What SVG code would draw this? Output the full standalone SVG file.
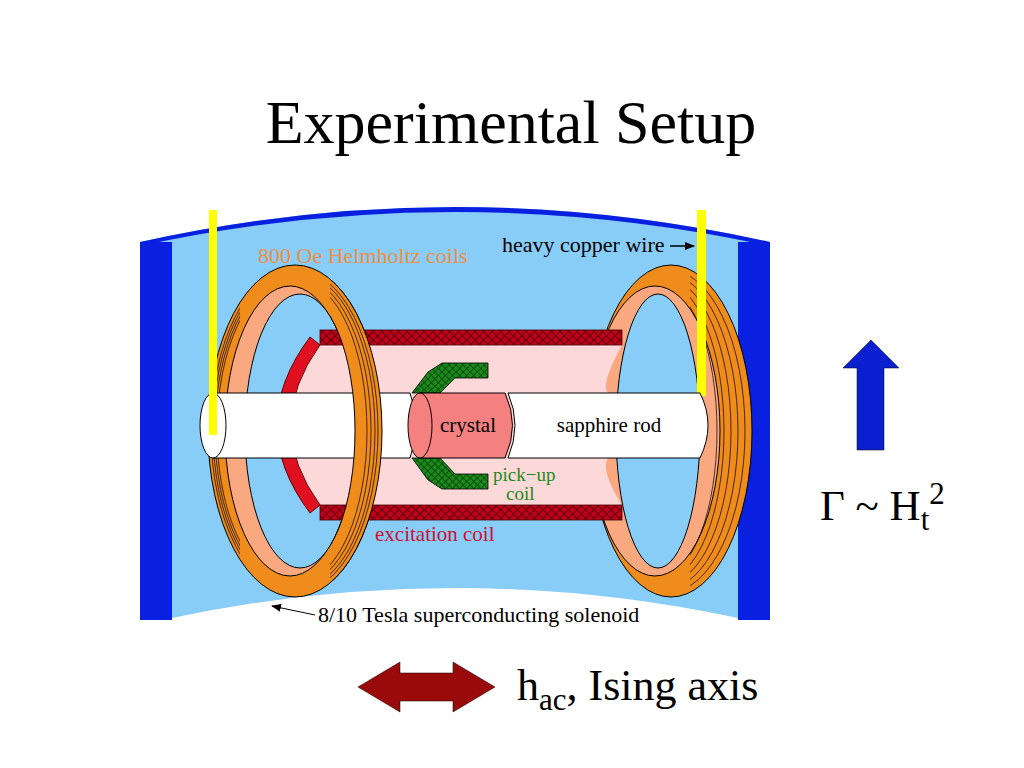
<svg xmlns="http://www.w3.org/2000/svg" width="1024" height="768" viewBox="0 0 1024 768">
<defs>
<pattern id="hatch" width="6" height="6" patternUnits="userSpaceOnUse" patternTransform="rotate(45)">
<rect width="6" height="6" fill="#c00018"/><path d="M0 0V6M0 0H6" stroke="#600010" stroke-width="2"/>
</pattern>
<pattern id="ghatch" width="5" height="5" patternUnits="userSpaceOnUse" patternTransform="rotate(45)">
<rect width="5" height="5" fill="#1a8a1a"/><path d="M0 0V5M0 0H5" stroke="#0a400a" stroke-width="1.5"/>
</pattern>
<marker id="ah" markerWidth="10" markerHeight="8" refX="9" refY="4" orient="auto" markerUnits="userSpaceOnUse"><path d="M0 0L10 4L0 8Z" fill="#000"/></marker>
<clipPath id="frontL"><rect x="330" y="250" width="60" height="360"/></clipPath>
<clipPath id="rightHalfR"><rect x="690" y="250" width="70" height="360"/></clipPath>
<clipPath id="leftHalfL"><rect x="200" y="250" width="40" height="360"/></clipPath>
</defs>
<style>
.t{font-family:"Liberation Serif",serif}
.ring{stroke:#000;stroke-width:1}
.wl{fill:none;stroke:#000;stroke-width:0.7}
</style>
<rect width="1024" height="768" fill="#fff"/>
<text class="t" x="511" y="143" font-size="62" text-anchor="middle">Experimental Setup</text>
<g id="solenoid">
<path d="M140 242Q455 172 770 242V620H738V618Q455 558 172 618V620H140Z" fill="#88ccf8"/>
<path d="M140 242Q455 172 770 242L770 246Q455 178 140 246Z" fill="#0a20e0"/>
<rect x="140" y="242" width="32" height="378" fill="#0a20e0"/>
<rect x="738" y="242" width="32" height="378" fill="#0a20e0"/>
</g>
<g id="ring-left">
<path fill="#f08c1c" class="ring" d="M208 431a87 166 0 1 0 174 0a87 166 0 1 0 -174 0Z"/>
<ellipse cx="290" cy="431" rx="65" ry="145" fill="#f9a880" class="ring"/>
<ellipse cx="300" cy="431" rx="55" ry="137" fill="#88ccf8" class="ring"/>
<g clip-path="url(#leftHalfL)">
<ellipse cx="293" cy="431" rx="82" ry="161" class="wl"/>
<ellipse cx="291" cy="431" rx="78" ry="157" class="wl"/>
<ellipse cx="289" cy="431" rx="74" ry="153" class="wl"/>
<ellipse cx="287" cy="431" rx="70" ry="149" class="wl"/>
</g>
</g>
<g id="ring-right">
<path fill="#f08c1c" class="ring" d="M590 431a81 166 0 1 0 162 0a81 166 0 1 0 -162 0Z"/>
<ellipse cx="655" cy="431" rx="65" ry="145" fill="#f9a880" class="ring"/>
<ellipse cx="658" cy="431" rx="42" ry="137" fill="#88ccf8" class="ring"/>
<g clip-path="url(#rightHalfR)">
<ellipse cx="669" cy="431" rx="76" ry="161" class="wl"/>
<ellipse cx="667" cy="431" rx="71" ry="157" class="wl"/>
<ellipse cx="665" cy="431" rx="66" ry="153" class="wl"/>
<ellipse cx="663" cy="431" rx="61" ry="149" class="wl"/>
<ellipse cx="661" cy="431" rx="56" ry="145" class="wl"/>
</g>
</g>
<rect x="697" y="210" width="9" height="186" fill="#ffff00"/>
<g id="excitation-coil">
<path d="M320 345H622Q600 385 608 393V458Q600 470 622 505H320Q260 425 320 345Z" fill="#fdd8d8"/>
<path d="M320 345Q262 425 320 505L310 513Q244 425 310 337Z" fill="#e01020" stroke="#600" stroke-width="1"/>
<rect x="320" y="330" width="302" height="15" fill="url(#hatch)" stroke="#400" stroke-width="0.8"/>
<rect x="320" y="505" width="302" height="15" fill="url(#hatch)" stroke="#400" stroke-width="0.8"/>
</g>
<g id="pickup-coil">
<path d="M442 363H488V378H455L440 393H412L428 372Z" fill="url(#ghatch)" stroke="#000" stroke-width="0.8"/>
<path d="M442 489H488V474H455L440 458H412L428 480Z" fill="url(#ghatch)" stroke="#000" stroke-width="0.8"/>
</g>
<g id="rod">
<path d="M213 393H410Q422 425 410 458H213Z" fill="#fff" stroke="#000" stroke-width="1"/>
<ellipse cx="213" cy="425.5" rx="13" ry="32.5" fill="#fff" stroke="#000" stroke-width="1"/>
<path d="M508 393H700Q716 425 700 458H508Q522 425 508 393Z" fill="#fff" stroke="#000" stroke-width="1"/>
<text class="t" x="609" y="432" font-size="21" text-anchor="middle">sapphire rod</text>
</g>
<g id="crystal">
<path d="M420 393H505Q520 425 505 458H420Z" fill="#f48080" stroke="#000" stroke-width="1"/>
<ellipse cx="420" cy="425.5" rx="12" ry="32.5" fill="#f48080" stroke="#000" stroke-width="1"/>
<text class="t" x="468" y="432" font-size="21" text-anchor="middle">crystal</text>
</g>
<g clip-path="url(#frontL)">
<path fill="#f08c1c" fill-rule="evenodd" class="ring" d="M208 431a87 166 0 1 0 174 0a87 166 0 1 0 -174 0ZM245 431a55 137 0 1 0 110 0a55 137 0 1 0 -110 0Z"/>
<ellipse cx="297" cy="431" rx="81" ry="161" class="wl"/>
<ellipse cx="299" cy="431" rx="76" ry="157" class="wl"/>
<ellipse cx="300" cy="431" rx="71" ry="153" class="wl"/>
<ellipse cx="301" cy="431" rx="66" ry="149" class="wl"/>
</g>
<rect x="209" y="210" width="8" height="225" fill="#ffff00"/>
<text class="t" x="258" y="263" font-size="22" fill="#f09040">800 Oe Helmholtz coils</text>
<text class="t" x="502" y="252" font-size="22">heavy copper wire</text>
<line x1="670" y1="246" x2="694" y2="246" stroke="#000" stroke-width="1.5" marker-end="url(#ah)"/>
<text class="t" x="375" y="541" font-size="21" fill="#d01030">excitation coil</text>
<text class="t" x="493" y="481" font-size="19" fill="#1a8a1a">pick−up</text>
<text class="t" x="506" y="500" font-size="19" fill="#1a8a1a">coil</text>
<text class="t" x="318" y="622" font-size="22">8/10 Tesla superconducting solenoid</text>
<line x1="315" y1="615" x2="272" y2="606" stroke="#000" stroke-width="1" marker-end="url(#ah)"/>
<path d="M871 340L899 368H884V450H857V368H843Z" fill="#0a20d0" stroke="#000" stroke-width="0.5"/>
<text class="t" x="820" y="520" font-size="43">Γ ~ H<tspan font-size="31" dy="10">t</tspan><tspan font-size="31" dy="-26">2</tspan></text>
<path d="M358 687L400 662V673H453V662L495 687L453 712V701H400V712Z" fill="#9a0a0a" stroke="#000" stroke-width="0.5"/>
<text class="t" x="517" y="700" font-size="44">h<tspan font-size="31" dy="10">ac</tspan><tspan dy="-10">, Ising axis</tspan></text>
</svg>
